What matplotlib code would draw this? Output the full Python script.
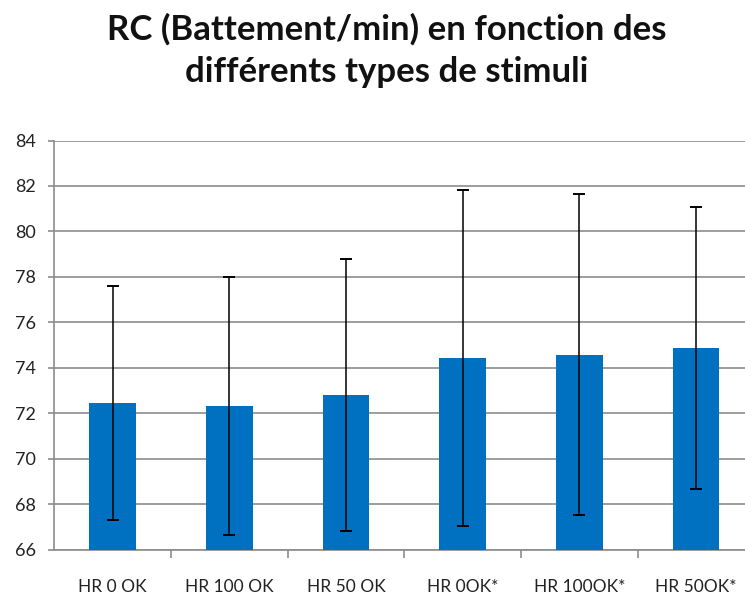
import matplotlib
matplotlib.use("Agg")
import matplotlib.pyplot as plt
import numpy as np

plt.rcParams['font.family'] = ['Lato', 'DejaVu Sans']

categories = ["HR 0 OK", "HR 100 OK", "HR 50 OK", "HR 0OK*", "HR 100OK*", "HR 50OK*"]
means = [72.45, 72.33, 72.80, 74.42, 74.58, 74.88]
sd = [5.14, 5.67, 6.00, 7.38, 7.05, 6.20]
y_ticks = [66, 68, 70, 72, 74, 76, 78, 80, 82, 84]

W, H = 745, 595
fig = plt.figure(figsize=(W / 100, H / 100), dpi=100)

left_px, right_px, top_px, bottom_px = 54.3, 754.5, 140.5, 549.5
ax = fig.add_axes([left_px / W, 1 - bottom_px / H,
                   (right_px - left_px) / W, (bottom_px - top_px) / H])

x = np.arange(len(categories))
ax.bar(x, means, width=0.4, color="#0070C0", zorder=3)
ax.errorbar(x, means, yerr=sd, fmt="none", ecolor="black", elinewidth=1.1,
            capsize=4, capthick=1.4, zorder=4)

ax.set_xlim(-0.5, len(categories) - 0.5)
ax.set_ylim(66, 84)
ax.set_yticks(y_ticks)
ax.yaxis.grid(True, color="#8c8c8c", linewidth=1.2, zorder=0)
ax.set_axisbelow(True)

grey = "#8c8c8c"
for side in ("top", "right"):
    ax.spines[side].set_visible(False)
for side in ("left", "bottom"):
    ax.spines[side].set_color(grey)
    ax.spines[side].set_linewidth(1.2)

ax.tick_params(axis="y", length=4.5, width=1.2, color=grey, pad=9,
               labelsize=13, labelcolor="#222222")
ax.set_xticks(x)
ax.set_xticklabels(categories)
ax.tick_params(axis="x", which="major", length=0, pad=21,
               labelsize=12.5, labelcolor="#222222")
ax.set_xticks(np.arange(0.5, len(categories) - 0.5, 1.0), minor=True)
ax.tick_params(axis="x", which="minor", length=5.5, width=1.2, color=grey)

fig.text(387 / W, 1 - 29 / H, "RC (Battement/min) en fonction des",
         ha="center", va="center", fontsize=25, fontweight="bold", color="#111111")
fig.text(387 / W, 1 - 72 / H, "différents types de stimuli",
         ha="center", va="center", fontsize=25, fontweight="bold", color="#111111")

fig.savefig("out.png", dpi=100)
